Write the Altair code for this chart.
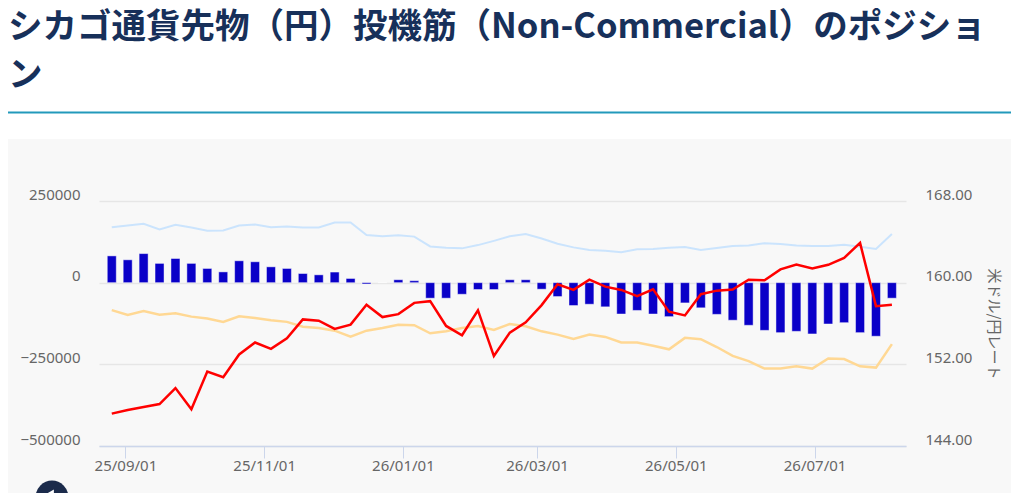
import altair as alt
import pandas as pd

title_lines = ["シカゴ通貨先物（円）投機筋（Non-Commercial）のポジショ", "ン"]
right_title = "米ドル/円レート"

first_week = "2025-08-26"
n_weeks = 50
dates = pd.date_range(first_week, periods=n_weeks, freq="7D").strftime("%Y-%m-%d").tolist()

net = [82000, 70000, 89000, 59000, 74000, 59000, 43500, 33000, 67000, 64000,
       48500, 43500, 28000, 24000, 32500, 13000, -4000, 0, 9000, 6000,
       -47500, -47500, -35500, -21000, -21000, 9000, 9000, -20000, -42500, -70000,
       -66000, -74000, -96000, -85000, -96000, -104000, -62000, -77000, -97000, -115000,
       -130500, -146000, -153000, -149000, -157000, -126500, -122500, -153000, -164000, -47500]

long_pos = [170000, 175000, 180000, 163000, 177000, 169000, 159000, 160000, 175000, 178000,
            170000, 172000, 169000, 169000, 184000, 184000, 146000, 142000, 145000, 141000,
            111000, 107000, 105000, 115000, 128000, 142000, 149000, 135000, 119000, 108000,
            100000, 98000, 93000, 102000, 103000, 107000, 109000, 100000, 106000, 112000,
            114000, 121000, 118000, 114000, 112000, 112000, 116000, 110000, 103000, 149000]

short_pos = [-84000, -99000, -87000, -98000, -94000, -104000, -110000, -120000, -103000, -108000,
             -115000, -120000, -135000, -139000, -147000, -165000, -147000, -139000, -129000, -130000,
             -155000, -149000, -139000, -133000, -145000, -126500, -133500, -149000, -159000, -172000,
             -159000, -166000, -183000, -183000, -193000, -204000, -169000, -173000, -197000, -224000,
             -240000, -263000, -263000, -256000, -263000, -232000, -234000, -256000, -260000, -188000]

rate = [147.17, 147.53, 147.82, 148.11, 149.67, 147.60, 151.29, 150.74, 152.97, 154.14,
        153.52, 154.56, 156.40, 156.28, 155.47, 155.89, 157.83, 156.63, 156.92, 158.02,
        158.19, 155.76, 154.85, 157.28, 152.81, 155.11, 156.11, 157.80, 159.84, 159.29,
        160.29, 159.61, 159.29, 158.67, 159.35, 157.15, 156.79, 158.87, 159.22, 159.32,
        160.29, 160.23, 161.30, 161.78, 161.39, 161.75, 162.43, 163.89, 157.70, 157.83]

left_ticks = [-500000, -250000, 0, 250000]
right_ticks = [144, 152, 160, 168]
x_ticks = [(2025, 9, 1), (2025, 11, 1), (2026, 1, 1), (2026, 3, 1), (2026, 5, 1), (2026, 7, 1)]

df = pd.DataFrame({"date": dates, "net": net, "long": long_pos, "short": short_pos, "rate": rate})

W, H = 807, 245
PL, PT, PR, PB = 91, 193, 105, 47

LABEL_FONT = "Noto Sans"
GRAY = "#666666"

x_enc = alt.X(
    "date:T",
    scale=alt.Scale(
        type="utc",
        domain=[alt.DateTime(year=2025, month=8, date=22, hours=14, utc=True),
                alt.DateTime(year=2026, month=8, date=8, utc=True)],
    ),
    axis=alt.Axis(
        values=[alt.DateTime(year=y, month=m, date=d, utc=True) for (y, m, d) in x_ticks],
        labelExpr="utcFormat(datum.value, '%y/%m/%d')",
        title=None, grid=False,
        domainColor="#ccd6eb", domainWidth=1.5,
        tickColor="#ccd6eb", tickSize=12, tickWidth=1,
        labelPadding=0, labelFlush=False,
        labelFont=LABEL_FONT, labelFontSize=15, labelColor=GRAY,
    ),
)

left_scale = alt.Scale(domain=[-500000, 250000], nice=False)
left_axis = alt.Axis(
    values=left_ticks, format="d", title=None,
    grid=True, gridColor="#e6e6e6", gridWidth=1.5,
    domain=False, ticks=False, tickSize=0,
    labelPadding=19, labelOffset=-7,
    labelFont=LABEL_FONT, labelFontSize=15, labelColor=GRAY,
)

bars = alt.Chart(df).mark_bar(
    size=9, color="#0a00c8", stroke="#ffffff", strokeWidth=1, strokeOpacity=0.45
).encode(x=x_enc, y=alt.Y("net:Q", scale=left_scale, axis=left_axis))

long_line = alt.Chart(df).mark_line(color="#cbe4fd", strokeWidth=2).encode(
    x=x_enc, y=alt.Y("long:Q", scale=left_scale, axis=left_axis))

short_line = alt.Chart(df).mark_line(color="#ffd894", strokeWidth=2.5).encode(
    x=x_enc, y=alt.Y("short:Q", scale=left_scale, axis=left_axis))

left_group = alt.layer(bars, long_line, short_line)

rate_line = alt.Chart(df).mark_line(color="#ff0000", strokeWidth=2.5).encode(
    x=x_enc,
    y=alt.Y(
        "rate:Q",
        scale=alt.Scale(domain=[144, 168], nice=False, zero=False),
        axis=alt.Axis(
            orient="right", values=right_ticks, format=".2f", title=right_title,
            grid=False, domain=False, ticks=False, tickSize=0,
            labelPadding=19, labelOffset=-7,
            labelFont=LABEL_FONT, labelFontSize=15, labelColor=GRAY,
            titleFont="Noto Sans CJK JP", titleFontSize=15, titleFontWeight="normal",
            titleColor=GRAY, titlePadding=14,
        ),
    ),
)

one = pd.DataFrame({"k": [0]})

white_top = alt.Chart(one).mark_rect(color="#ffffff").encode(
    x=alt.value(-PL), x2=alt.value(W + PR), y=alt.value(-PT), y2=alt.value(-62))

teal_rule = alt.Chart(one).mark_rule(color="#2299bb", strokeWidth=2).encode(
    x=alt.value(-PL), x2=alt.value(W + PR), y=alt.value(-88.5))

title_text = alt.Chart(pd.DataFrame({"t": ["\n".join(title_lines)]})).mark_text(
    align="left", baseline="alphabetic", font="Noto Sans CJK JP", fontSize=34.5,
    fontWeight="bold", color="#17305a", lineBreak="\n", lineHeight=48,
).encode(text="t:N", x=alt.value(-PL), y=alt.value(-163))

button = alt.Chart(one).mark_point(filled=True, shape="circle", size=1075,
                                   color="#1b2b4b", opacity=1).encode(
    x=alt.value(-47), y=alt.value(296))
button_arrow = alt.Chart(one).mark_point(filled=True, shape="triangle-left", size=80,
                                         color="#ffffff", opacity=1).encode(
    x=alt.value(-49), y=alt.value(293))

chart = alt.layer(
    white_top, teal_rule, title_text, left_group, rate_line, button, button_arrow
).resolve_scale(y="independent").properties(
    width=W, height=H,
    padding={"left": PL, "top": PT, "right": PR, "bottom": PB},
    autosize=alt.AutoSizeParams(type="none"),
).configure(background="#f8f8f8").configure_view(strokeWidth=0)

chart.save("out.html", embed_options={"renderer": "svg", "actions": False})
